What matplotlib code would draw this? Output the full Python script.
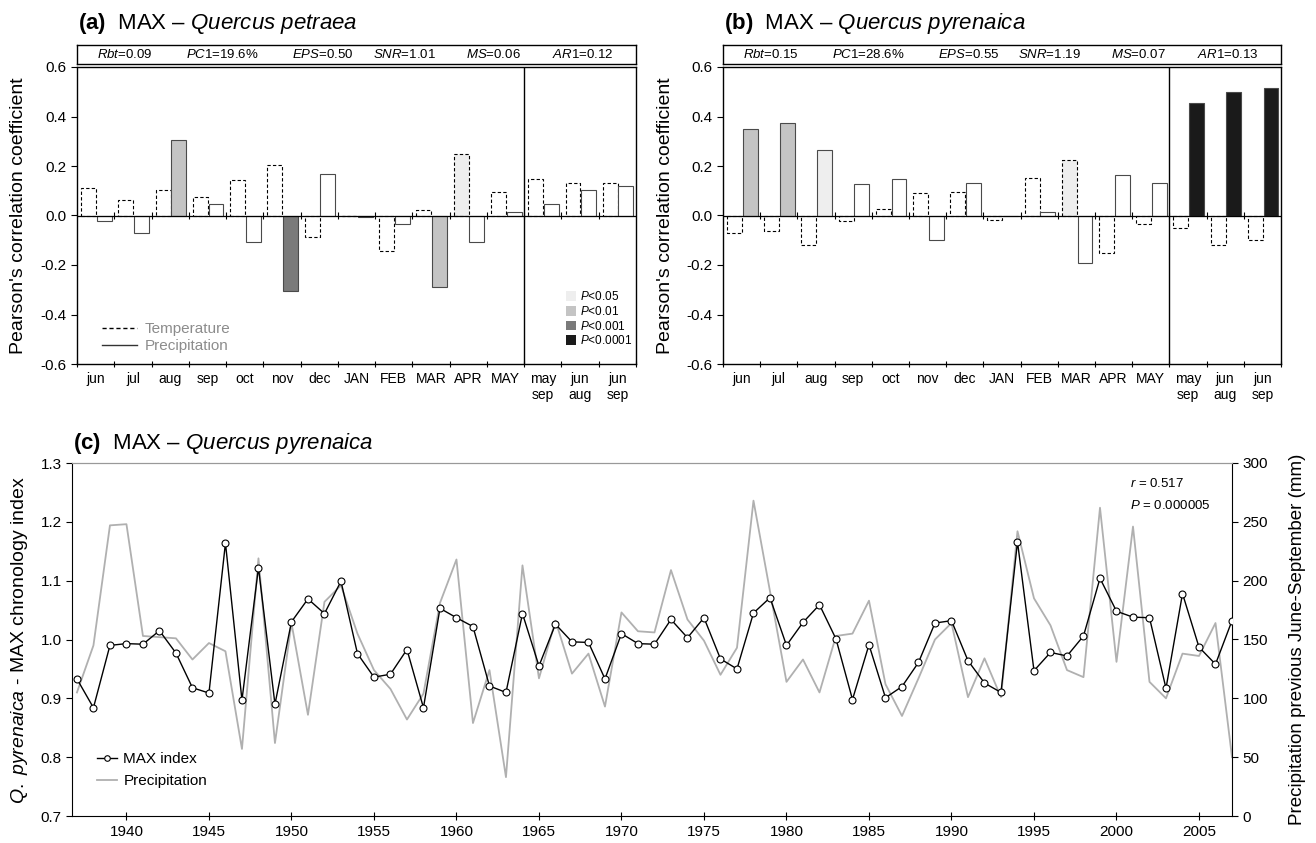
import matplotlib
matplotlib.use('Agg')
import matplotlib.pyplot as plt
import matplotlib.patches as mpatches
from matplotlib.lines import Line2D
import numpy as np

plt.rcParams['font.family'] = ['Liberation Sans', 'DejaVu Sans']
plt.rcParams['mathtext.fontset'] = 'custom'
plt.rcParams['mathtext.rm'] = 'Liberation Sans'
plt.rcParams['mathtext.it'] = 'Liberation Sans:italic'
plt.rcParams['mathtext.bf'] = 'Liberation Sans:bold'
plt.rcParams['axes.unicode_minus'] = False

# ---- data: correlation panels ----
months = ['jun', 'jul', 'aug', 'sep', 'oct', 'nov', 'dec', 'JAN', 'FEB', 'MAR',
          'APR', 'MAY', 'may\nsep', 'jun\naug', 'jun\nsep']

temp_a = [0.111, 0.063, 0.103, 0.073, 0.143, 0.203, -0.087, -0.003, -0.143, 0.023,
          0.249, 0.096, 0.149, 0.133, 0.130]
prec_a = [-0.024, -0.069, 0.305, 0.045, -0.107, -0.307, 0.167, -0.007, -0.036, -0.289,
          -0.107, 0.013, 0.045, 0.104, 0.120]
# significance class: 0 n.s., 1 P<0.05, 2 P<0.01, 3 P<0.001, 4 P<0.0001
sig_temp_a = [0, 0, 0, 0, 0, 0, 0, 0, 0, 0, 1, 0, 0, 0, 0]
sig_prec_a = [0, 0, 2, 0, 0, 3, 0, 0, 0, 2, 0, 0, 0, 0, 0]

temp_b = [-0.071, -0.064, -0.118, -0.021, 0.027, 0.090, 0.094, -0.017, 0.150, 0.223,
          -0.152, -0.035, -0.051, -0.118, -0.098]
prec_b = [0.348, 0.374, 0.263, 0.126, 0.146, -0.101, 0.130, -0.004, 0.013, -0.192,
          0.165, 0.130, 0.454, 0.498, 0.514]
sig_temp_b = [0, 0, 0, 0, 0, 0, 0, 0, 0, 1, 0, 0, 0, 0, 0]
sig_prec_b = [2, 2, 1, 0, 0, 0, 0, 0, 0, 0, 0, 0, 4, 4, 4]

stats_a = [('Rbt', '0.09'), ('PC1', '19.6%'), ('EPS', '0.50'), ('SNR', '1.01'),
           ('MS', '0.06'), ('AR1', '0.12')]
stats_b = [('Rbt', '0.15'), ('PC1', '28.6%'), ('EPS', '0.55'), ('SNR', '1.19'),
           ('MS', '0.07'), ('AR1', '0.13')]

sig_labels = ['P<0.05', 'P<0.01', 'P<0.001', 'P<0.0001']
sig_colors = ['white', '#eeeeee', '#c4c4c4', '#7a7a7a', '#1a1a1a']

# ---- data: time series panel ----
years = list(range(1937, 2008))
max_index = [0.933, 0.884, 0.990, 0.993, 0.992, 1.015, 0.977, 0.918, 0.909, 1.164,
             0.897, 1.122, 0.890, 1.030, 1.069, 1.044, 1.099, 0.976, 0.936, 0.941,
             0.983, 0.884, 1.053, 1.037, 1.022, 0.921, 0.910, 1.044, 0.955, 1.026,
             0.996, 0.995, 0.933, 1.010, 0.993, 0.992, 1.034, 1.003, 1.037, 0.967,
             0.950, 1.045, 1.071, 0.990, 1.029, 1.059, 1.001, 0.898, 0.991, 0.901,
             0.920, 0.961, 1.028, 1.032, 0.964, 0.926, 0.910, 1.166, 0.947, 0.978,
             0.972, 1.006, 1.104, 1.048, 1.038, 1.037, 0.917, 1.078, 0.987, 0.958,
             1.032]
precip = [105, 145, 247, 248, 153, 152, 151, 133, 147, 140,
          57, 219, 62, 164, 86, 182, 196, 155, 124, 108,
          82, 104, 181, 218, 79, 124, 33, 213, 117, 166,
          121, 138, 93, 173, 157, 156, 209, 167, 149, 120,
          143, 268, 191, 114, 133, 105, 153, 155, 183, 112,
          85, 117, 150, 164, 101, 134, 101, 242, 185, 162,
          124, 118, 262, 131, 246, 114, 100, 138, 136, 164,
          50]

W, H = 1316, 843
fig = plt.figure(figsize=(W / 100, H / 100), dpi=100)


def fx(px):
    return px / W


def fy(py):
    return 1 - py / H


def it(s):
    return r'$\it{' + s.replace(' ', r'\ ') + '}$'


def correlation_panel(x0, x1, temp, prec, sig_t, sig_p, stats, tag, species, show_legend):
    top, bottom = 67, 364
    ax = fig.add_axes([fx(x0), fy(bottom), fx(x1 - x0), (bottom - top) / H])
    n = len(months)
    x = np.arange(n)
    ax.bar(x + 0.31, temp, width=0.40, color=[sig_colors[s] for s in sig_t],
           edgecolor='black', linestyle=(0, (3, 2)), linewidth=0.8, zorder=2)
    ax.bar(x + 0.73, prec, width=0.40, color=[sig_colors[s] for s in sig_p],
           edgecolor='#4a4a4a', linewidth=0.8, zorder=2)
    ax.axhline(0, color='black', lw=0.9, zorder=3)
    ax.vlines(np.arange(1, n), -0.013, 0.013, color='black', lw=0.8, zorder=3)
    ax.axvline(12, color='black', lw=1.0, zorder=3)
    ax.set_xlim(0, n)
    ax.set_ylim(-0.6, 0.6)
    ax.set_yticks(np.arange(-0.6, 0.61, 0.2))
    ax.set_yticklabels([f'{v:.1f}' for v in np.arange(-0.6, 0.61, 0.2)])
    ax.set_xticks(np.arange(0, n + 1))
    ax.set_xticklabels([])
    ax.set_xticks(x + 0.5, minor=True)
    ax.set_xticklabels(months, minor=True, fontsize=10, linespacing=1.15)
    ax.tick_params(axis='x', which='major', direction='inout', length=5, width=0.8)
    ax.tick_params(axis='x', which='minor', length=0, pad=6)
    ax.tick_params(axis='y', direction='out', length=4, width=0.8, labelsize=11)
    for sp in ax.spines.values():
        sp.set_linewidth(1.0)

    # statistics header box
    hb = fig.add_axes([fx(x0), fy(64), fx(x1 - x0), 19 / H])
    hb.set_xticks([])
    hb.set_yticks([])
    for sp in hb.spines.values():
        sp.set_linewidth(1.0)
    for xf, (k, v) in zip([0.085, 0.26, 0.44, 0.585, 0.745, 0.905], stats):
        hb.text(xf, 0.48, it(k) + '=' + v, ha='center', va='center', fontsize=9.5,
                transform=hb.transAxes)

    fig.text(fx(x0 + 1), fy(24), r'$\bf{(' + tag + ')}$' + '  MAX – ' + it(species),
             fontsize=16, ha='left', va='center')
    fig.text(fx(x0 - 58), fy((top + bottom) / 2), "Pearson's correlation coefficient",
             rotation=90, ha='center', va='center', fontsize=14)

    if show_legend:
        h1 = [Line2D([0], [0], color='black', lw=1, linestyle=(0, (3, 2))),
              Line2D([0], [0], color='#333333', lw=1)]
        leg = ax.legend(h1, ['Temperature', 'Precipitation'], loc='lower left',
                        bbox_to_anchor=(0.02, -0.01), frameon=False, fontsize=11,
                        handlelength=2.3, labelspacing=0.2, handletextpad=0.5,
                        labelcolor='#8c8c8c')
        ax.add_artist(leg)
        h2 = [mpatches.Patch(facecolor=c, edgecolor='none') for c in sig_colors[1:]]
        ax.legend(h2, [it('P') + s[1:] for s in sig_labels], loc='lower left',
                  bbox_to_anchor=(0.855, 0.02), frameon=False, fontsize=8.5,
                  handlelength=0.9, handleheight=0.9, labelspacing=0.15,
                  handletextpad=0.3)
    return ax


correlation_panel(77, 636, temp_a, prec_a, sig_temp_a, sig_prec_a, stats_a,
                  'a', 'Quercus petraea', True)
correlation_panel(723, 1281, temp_b, prec_b, sig_temp_b, sig_prec_b, stats_b,
                  'b', 'Quercus pyrenaica', False)

# ---- panel (c) ----
ctop, cbot, cl, cr = 463, 816, 72, 1232
axc = fig.add_axes([fx(cl), fy(cbot), fx(cr - cl), (cbot - ctop) / H])
axp = axc.twinx()
lp, = axp.plot(years, precip, color='#b0b0b0', lw=1.3, label='Precipitation')
lm, = axc.plot(years, max_index, color='black', lw=1.0, marker='o', ms=5,
               mfc='white', mec='black', mew=0.8, label='MAX index')
axc.set_zorder(axp.get_zorder() + 1)
axc.patch.set_visible(False)
axc.set_xlim(1936.7, 2007)
axc.set_ylim(0.7, 1.3)
axp.set_ylim(0, 300)
axc.set_xticks(np.arange(1940, 2006, 5))
axc.set_yticks(np.arange(0.7, 1.31, 0.1))
axc.set_yticklabels([f'{v:.1f}' for v in np.arange(0.7, 1.31, 0.1)])
axp.set_yticks(np.arange(0, 301, 50))
axc.tick_params(axis='x', direction='inout', length=6, width=0.8, labelsize=11)
axc.tick_params(axis='y', direction='out', length=4, width=0.8, labelsize=11)
axp.tick_params(axis='y', direction='out', length=4, width=0.8, labelsize=11)
for a in (axc, axp):
    a.spines['top'].set_color('#999999')
axc.spines['right'].set_visible(False)
axp.spines['left'].set_visible(False)
axp.spines['bottom'].set_visible(False)

axc.legend([lm, lp], ['MAX index', 'Precipitation'], loc='lower left',
           bbox_to_anchor=(0.01, 0.04), frameon=False, fontsize=11,
           handlelength=1.3, labelspacing=0.5, handletextpad=0.4, markerscale=0.8)
axc.text(0.912, 0.943, it('r') + ' = 0.517', transform=axc.transAxes, fontsize=9.5,
         ha='left', va='center')
axc.text(0.912, 0.881, it('P') + ' = 0.000005', transform=axc.transAxes, fontsize=9.5,
         ha='left', va='center')

fig.text(fx(cl + 1), fy(443), r'$\bf{(c)}$' + '  MAX – ' + it('Quercus pyrenaica'),
         fontsize=16, ha='left', va='center')
fig.text(fx(20), fy((ctop + cbot) / 2), it('Q. pyrenaica') + ' - MAX chronology index',
         rotation=90, ha='center', va='center', fontsize=14)
fig.text(fx(1298), fy((ctop + cbot) / 2), 'Precipitation previous June-September (mm)',
         rotation=90, ha='center', va='center', fontsize=13.5)

fig.savefig('out.png', dpi=100)
